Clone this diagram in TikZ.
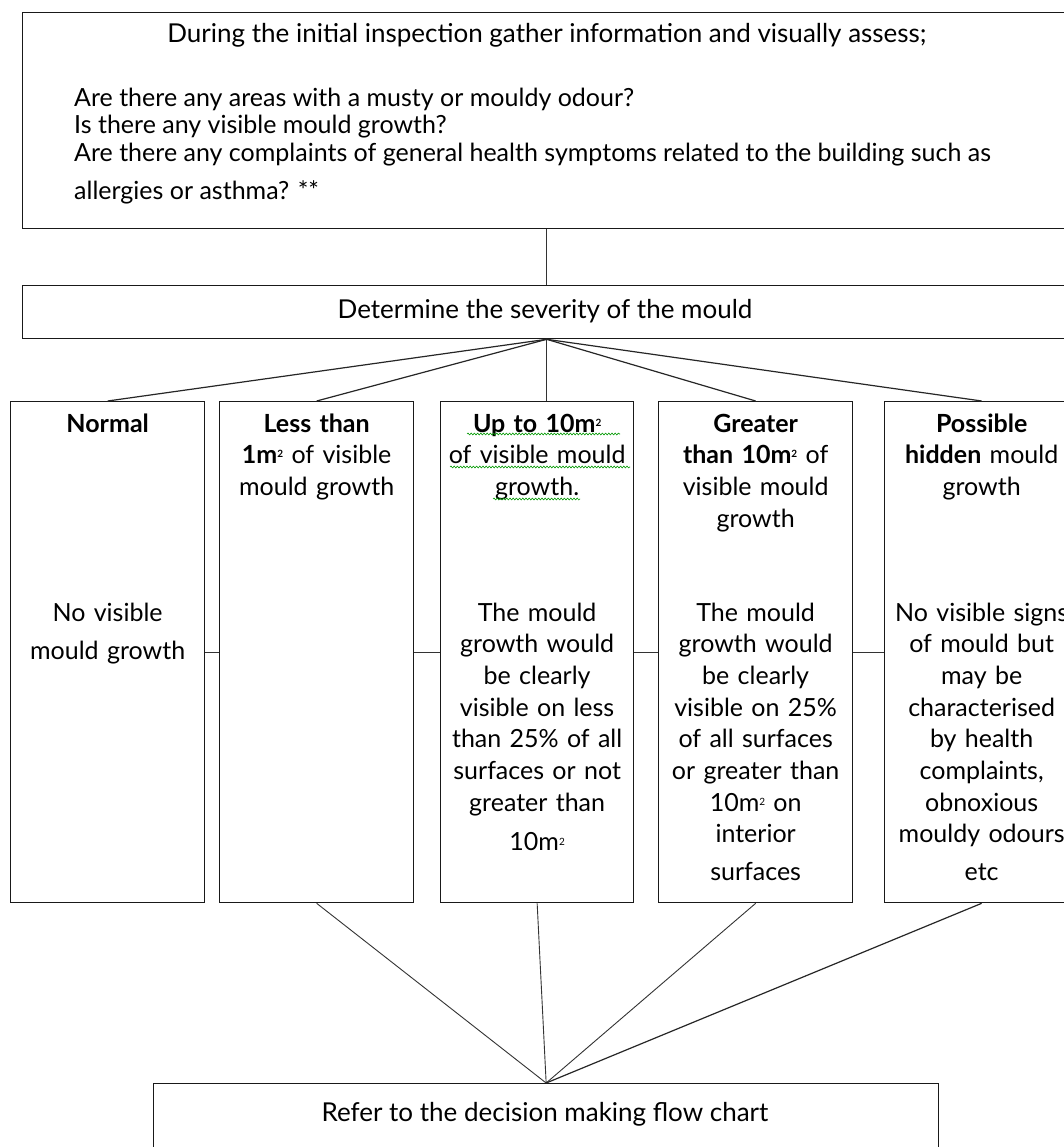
\documentclass[tikz,border=0pt]{standalone}
\usepackage{fontspec}
\setmainfont{Lato}
\newfontfamily\boxfont{Lato}
\usetikzlibrary{decorations.pathmorphing,calc}
\newcommand{\sqm}{\raisebox{0.45ex}{\fontsize{10}{10}\selectfont 2}}

\begin{document}
\begin{tikzpicture}[x=1pt,y=-1pt,
  frame/.style={draw=black!90, line width=1.3pt, inner sep=0pt, anchor=north west, fill=none},
  fan/.style={draw=black!85, line width=1.2pt},
  link/.style={draw=black!80, line width=0.9pt},
  toptxt/.style={font=\fontsize{25}{27}\selectfont, inner sep=0pt, anchor=base west},
  ctxt/.style={font=\fontsize{26}{28}\selectfont, inner sep=0pt, anchor=base},
  boxtxt/.style={font=\boxfont\fontsize{25}{31.7}\selectfont, inner sep=0pt, anchor=base, text width=200pt, align=center},
  wavy/.style={draw=green!60!black, line width=0.6pt, decorate, decoration={snake, amplitude=0.9pt, segment length=3.2pt}}
]
\useasboundingbox (0,0) rectangle (1064,1147);
\clip (0,0) rectangle (1064,1147);
\fill[white] (0,0) rectangle (1064,1147);

% top box
\node[frame, minimum width=1048pt, minimum height=216pt] (top) at (22,12) {};
\node[ctxt] (t0) at (547,43) {During the initial inspection gather information and visually assess;};
\node[toptxt] (t1) at (74,107) {Are there any areas with a musty or mouldy odour?};
\node[toptxt] (t2) at (74,134) {Is there any visible mould growth?};
\node[toptxt] (t3) at (74,162) {Are there any complaints of general health symptoms related to the building such as};
\node[toptxt] (t4) at (74,200) {allergies or asthma? **};

% severity box
\node[frame, minimum width=1048pt, minimum height=53pt] (sev) at (22,285) {};
\node[ctxt] (sevt) at (545,318) {Determine the severity of the mould};

% category boxes
\node[frame, minimum width=194pt, minimum height=501pt] (b1) at (10,401) {};
\node[frame, minimum width=194pt, minimum height=501pt] (b2) at (219,401) {};
\node[frame, minimum width=193pt, minimum height=501pt] (b3) at (440,401) {};
\node[frame, minimum width=194pt, minimum height=501pt] (b4) at (658,401) {};
\node[frame, minimum width=194pt, minimum height=501pt] (b5) at (884,401) {};

% headings
\node[boxtxt] (h1) at (b1.north |- 0,432) {\textbf{Normal}};
\node[boxtxt] (h2) at (b2.north |- 0,432) {\textbf{Less than}\\\textbf{1m\sqm} of visible\\mould growth};
\node[boxtxt] (h3) at (b3.north |- 0,432) {\textbf{Up to 10m\sqm}\\of visible mould\\growth.};
\node[boxtxt] (h4) at (b4.north |- 0,432) {\textbf{Greater}\\\textbf{than 10m\sqm} of\\visible mould\\growth};
\node[boxtxt] (h5) at (b5.north |- 0,432) {\textbf{Possible}\\\textbf{hidden} mould\\growth};

% bodies
\node[boxtxt] (d1) at (b1.north |- 0,621) {No visible\\[7pt]mould growth};
\node[boxtxt] (d3) at (b3.north |- 0,621) {The mould\\growth would\\be clearly\\visible on less\\than 25\% of all\\surfaces or not\\greater than\\[8pt]10m\sqm};
\node[boxtxt] (d4) at (b4.north |- 0,621) {The mould\\growth would\\be clearly\\visible on 25\%\\of all surfaces\\or greater than\\10m\sqm{} on\\interior\\[6pt]surfaces};
\node[boxtxt] (d5) at (b5.north |- 0,621) {No visible signs\\of mould but\\may be\\characterised\\by health\\complaints,\\obnoxious\\mouldy odours\\[6pt]etc};

% spell-check wavy underlines
\draw[wavy] (467,434) -- (620,434);
\draw[wavy] (450,467) -- (630,467);
\draw[wavy] (493,499) -- (580,499);

% bottom box
\node[frame, minimum width=785pt, minimum height=100pt] (ref) at (153,1083) {};
\node[ctxt] (reft) at (545,1121) {Refer to the decision making flow chart};

% connectors
\draw[link] (top.south) -- (sev.north);
\draw[fan] (sev.south) -- (b1.north);
\draw[fan] (sev.south) -- (b2.north);
\draw[link] (sev.south) -- (sev.south |- b3.north);
\draw[fan] (sev.south) -- (b4.north);
\draw[fan] (sev.south) -- (b5.north);
\draw[link] (b1.east) -- (b2.west);
\draw[link] (b2.east) -- (b3.west);
\draw[link] (b3.east) -- (b4.west);
\draw[link] (b4.east) -- (b5.west);
\draw[link] (b2.south) -- (ref.north);
\draw[link] (b3.south) -- (ref.north);
\draw[link] (b4.south) -- (ref.north);
\draw[fan] (b5.south) -- (ref.north);
\end{tikzpicture}
\end{document}
